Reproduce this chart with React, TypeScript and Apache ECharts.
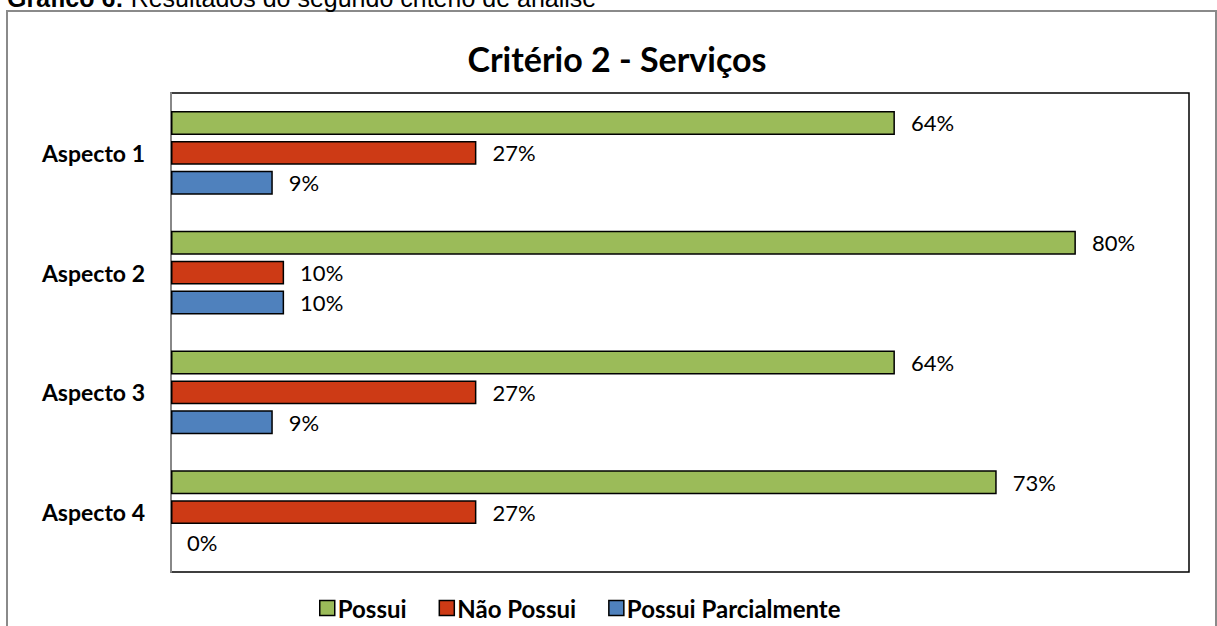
import React, { useEffect, useRef } from "react";
import * as echarts from "echarts";

const categories = ["Aspecto 1", "Aspecto 2", "Aspecto 3", "Aspecto 4"];
const possui = [64, 80, 64, 73];
const naoPossui = [27, 10, 27, 27];
const parcialmente = [9, 10, 9, 0];
const seriesNames = ["Possui", "Não Possui", "Possui Parcialmente"];
const colors = ["#9BBB59", "#CD3A15", "#4F81BD"];

export default function App() {
  const ref = useRef<HTMLDivElement>(null);
  useEffect(() => {
    const chart = echarts.init(ref.current!, null, { renderer: "svg" });
    const font = "Lato, 'Noto Sans', sans-serif";
    const mk = (name: string, data: number[], color: string) => ({
      name,
      type: "bar",
      data: data.map((v) => (v === 0 ? { value: v, itemStyle: { borderWidth: 0 } } : v)),
      barCategoryGap: "30%",
      barGap: "25%",
      itemStyle: { color, borderColor: "#000", borderWidth: 1.5 },
      label: {
        show: true,
        position: "right",
        distance: 16,
        formatter: "{c}%",
        fontFamily: font,
        fontSize: 22,
        color: "#000",
      },
    });
    chart.setOption({
      animation: false,
      color: colors,
      title: {
        text: "Critério 2 - Serviços",
        left: 612,
        textAlign: "center",
        top: 36,
        textStyle: { fontFamily: font, fontSize: 34, fontWeight: "bold", color: "#000" },
      },
      graphic: [
        {
          type: "rect",
          shape: { x: 7, y: 11, width: 1209, height: 640 },
          style: { fill: "none", stroke: "#8a8a8a", lineWidth: 2 },
          z: -1,
        },
        {
          type: "text",
          x: 7,
          y: -15,
          style: {
            text: "{b|Gráfico 6:} Resultados do segundo critério de análise",
            fontFamily: "'Liberation Sans', Arial, sans-serif",
            fontSize: 25,
            fill: "#000",
            rich: {
              b: { fontFamily: "'Liberation Sans', Arial, sans-serif", fontSize: 25, fontWeight: "bold", fill: "#000" },
            },
          },
        },
      ],
      legend: {
        left: 314,
        top: 591,
        itemWidth: 15,
        itemHeight: 15,
        itemGap: 32,
        icon: "rect",
        itemStyle: { borderColor: "#000", borderWidth: 1.5 },
        textStyle: { fontFamily: font, fontSize: 24, fontWeight: "bold", color: "#000", padding: [0, 0, 0, -2] },
        data: seriesNames,
      },
      grid: {
        left: 171,
        top: 93,
        right: 28,
        bottom: 54,
        show: true,
        borderColor: "#000",
        borderWidth: 1.5,
        containLabel: false,
      },
      xAxis: {
        type: "value",
        min: 0,
        max: 90,
        axisLabel: { show: false },
        axisLine: { show: false },
        axisTick: { show: false },
        splitLine: { show: false },
      },
      yAxis: {
        type: "category",
        data: categories,
        inverse: true,
        axisLine: { show: true, lineStyle: { color: "#888", width: 2 } },
        axisTick: { show: false },
        axisLabel: {
          fontFamily: font,
          fontSize: 23,
          fontWeight: "bold",
          color: "#000",
          margin: 26,
        },
      },
      series: [
        mk(seriesNames[0], possui, colors[0]),
        mk(seriesNames[1], naoPossui, colors[1]),
        mk(seriesNames[2], parcialmente, colors[2]),
      ],
    });
    return () => chart.dispose();
  }, []);
  return (
    <div
      ref={ref}
      style={{ position: "absolute", left: 0, top: 0, width: 1217, height: 626, background: "#fff" }}
    />
  );
}
